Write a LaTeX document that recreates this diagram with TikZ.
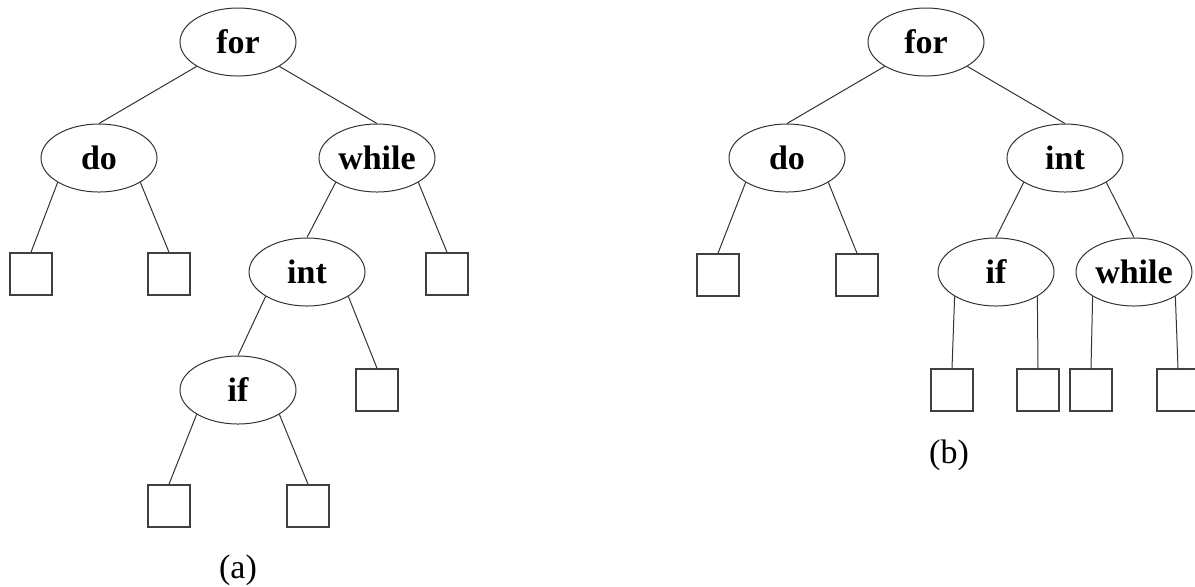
\documentclass[tikz,border=0pt]{standalone}
\usepackage{fontspec}
\setmainfont{Liberation Serif}
\usetikzlibrary{positioning, shapes.geometric}

\begin{document}
\begin{tikzpicture}[x=0.5pt, y=-0.5pt,
    kw/.style={ellipse, draw=black!80, line width=0.5pt, minimum width=58pt, minimum height=34pt,
               inner sep=0pt, font=\bfseries\fontsize{17}{20}\selectfont},
    leaf/.style={rectangle, draw=black!75, line width=0.8pt, minimum size=21pt, inner sep=0pt},
    edge/.style={draw=black!80, line width=0.5pt}]
            \useasboundingbox (0,0) rectangle (1195,586);

            % tree (a)
            \node[kw] (forA) at (238,42) {for};
            \node[kw] (doA) at (99,158) {do};
            \node[kw] (whileA) at (377,158) {while};
            \node[kw] (intA) at (307,272) {int};
            \node[kw] (ifA) at (238,390) {if};

            \node[leaf] (doAl) at (31,274) {};
            \node[leaf] (doAr) at (169,274) {};
            \node[leaf] (whileAr) at (447,274) {};
            \node[leaf] (intAr) at (377,390) {};
            \node[leaf] (ifAl) at (169,506) {};
            \node[leaf] (ifAr) at (308,506) {};

            \draw[edge] (forA.south west) -- (doA.north);
            \draw[edge] (forA.south east) -- (whileA.north);
            \draw[edge] (doA.south west) -- (doAl.north);
            \draw[edge] (doA.south east) -- (doAr.north);
            \draw[edge] (whileA.south west) -- (intA.north);
            \draw[edge] (whileA.south east) -- (whileAr.north);
            \draw[edge] (intA.south west) -- (ifA.north);
            \draw[edge] (intA.south east) -- (intAr.north);
            \draw[edge] (ifA.south west) -- (ifAl.north);
            \draw[edge] (ifA.south east) -- (ifAr.north);

            \node[font=\fontsize{17}{20}\selectfont] (capA) at (238,570) {(a)};

            % tree (b)
            \node[kw] (forB) at (926,42) {for};
            \node[kw] (doB) at (787,158) {do};
            \node[kw] (intB) at (1065,158) {int};
            \node[kw] (ifB) at (996,272) {if};
            \node[kw] (whileB) at (1134,272) {while};

            \node[leaf] (doBl) at (718,275) {};
            \node[leaf] (doBr) at (857,275) {};
            \node[leaf] (ifBl) at (952,390) {};
            \node[leaf] (ifBr) at (1038,390) {};
            \node[leaf] (whileBl) at (1091,390) {};
            \node[leaf] (whileBr) at (1178,390) {};

            \draw[edge] (forB.south west) -- (doB.north);
            \draw[edge] (forB.south east) -- (intB.north);
            \draw[edge] (doB.south west) -- (doBl.north);
            \draw[edge] (doB.south east) -- (doBr.north);
            \draw[edge] (intB.south west) -- (ifB.north);
            \draw[edge] (intB.south east) -- (whileB.north);
            \draw[edge] (ifB.south west) -- (ifBl.north);
            \draw[edge] (ifB.south east) -- (ifBr.north);
            \draw[edge] (whileB.south west) -- (whileBl.north);
            \draw[edge] (whileB.south east) -- (whileBr.north);

            \node[font=\fontsize{17}{20}\selectfont] (capB) at (949,455) {(b)};
        \end{tikzpicture}
\end{document}
